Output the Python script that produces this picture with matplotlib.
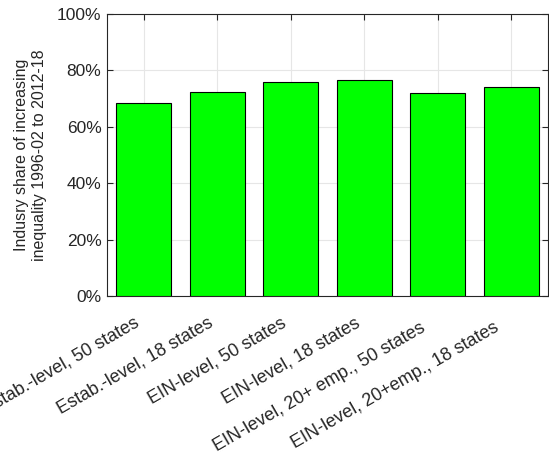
import numpy as np
import matplotlib
matplotlib.use("Agg")
import matplotlib.pyplot as plt
import matplotlib.transforms as mtransforms
from matplotlib.ticker import FuncFormatter

plt.rcParams['font.family'] = ['Liberation Sans', 'DejaVu Sans']

# data
categories = ['Estab.-level, 50 states', 'Estab.-level, 18 states',
              'EIN-level, 50 states', 'EIN-level, 18 states',
              'EIN-level, 20+ emp., 50 states', 'EIN-level, 20+emp., 18 states']
shares = [0.684, 0.722, 0.759, 0.766, 0.719, 0.740]
yticks = [0, 0.2, 0.4, 0.6, 0.8, 1.0]

fig = plt.figure(figsize=(5.49, 4.54), dpi=100)
ax = fig.add_axes([107/549, 158/454, 441/549, 282/454])

x = np.arange(1, len(categories) + 1)
ax.bar(x, shares, width=0.75, color='#00ff00', edgecolor='black', linewidth=0.8, zorder=3)

ax.set_xlim(0.5, 6.5)
ax.set_ylim(0, 1)
ax.set_yticks(yticks)
ax.yaxis.set_major_formatter(FuncFormatter(lambda v, p: '%d%%' % round(v * 100)))
ax.set_xticks(x)
ax.set_xticklabels(categories, rotation=30, ha='right', va='center', rotation_mode='anchor')

ax.grid(True, color='#e6e6e6', linewidth=0.8, zorder=0)
ax.set_axisbelow(True)
for s in ax.spines.values():
    s.set_color('#262626')
    s.set_linewidth(0.8)
ax.tick_params(direction='in', length=4, width=0.8, color='#262626',
               top=True, right=True, labelsize=12.5, labelcolor='#262626')
ax.tick_params(axis='y', pad=4)
ax.tick_params(axis='x', pad=18.5, labelsize=13)

# small shifts of the rotated labels (the last two sit a bit further left/down)
for i, lab in enumerate(ax.get_xticklabels()):
    dx, dy = -6, 0
    if i >= 4:
        dx, dy = -14, -5
    lab.set_transform(lab.get_transform() +
                      mtransforms.ScaledTranslation(dx / 100, dy / 100, fig.dpi_scale_trans))

ax.set_ylabel('Indusry share of increasing\ninequality 1996-02 to 2012-18',
              fontsize=11.5, color='#262626', linespacing=1.25, labelpad=7)

fig.savefig('out.png', dpi=100)
